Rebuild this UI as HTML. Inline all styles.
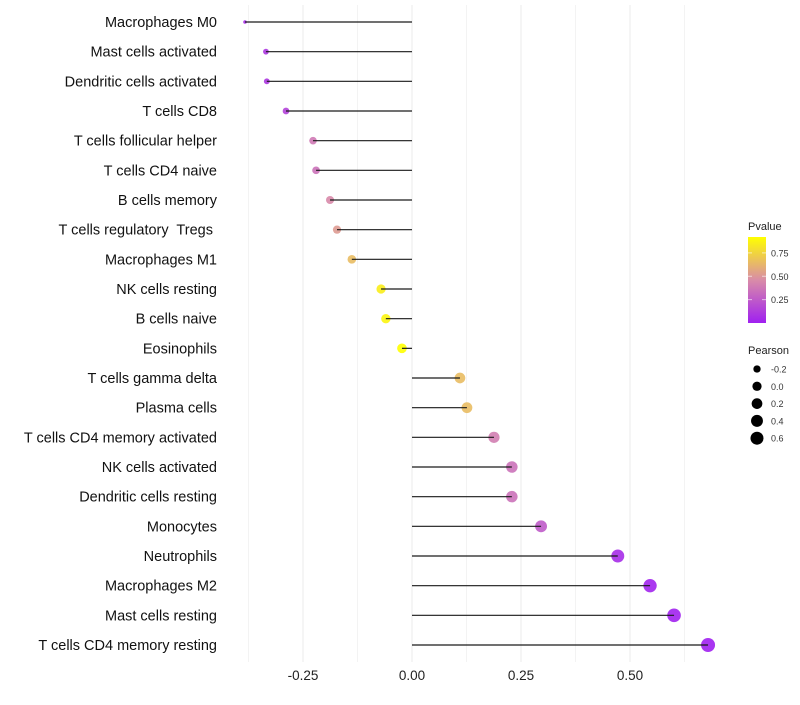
<!DOCTYPE html>
<html><head><meta charset="utf-8"><style>
body{margin:0;background:#fff;font-family:"Liberation Sans",sans-serif}
text{white-space:pre}
</style></head><body>
<svg id="chart" width="800" height="700" xmlns="http://www.w3.org/2000/svg">
<defs><linearGradient id="pg" x1="0" y1="1" x2="0" y2="0">
<stop offset="0" stop-color="#a020f0"/><stop offset="0.5" stop-color="#d98ca8"/><stop offset="1" stop-color="#ffff00"/></linearGradient></defs>
<g id="grid"></g>
<g id="marks"></g>
<g id="labels"></g>
<g id="xt"></g>
<g>
<text x="748" y="230" font-size="11" fill="#222">Pvalue</text>
<rect x="748" y="237" width="18" height="86" fill="url(#pg)"/>
<g id="pleg"></g>
</g>
<g>
<text x="748" y="354" font-size="11" fill="#222">Pearson</text>
<g id="sleg"></g>
</g>
</svg>
<script>
const categories=["Macrophages M0","Mast cells activated","Dendritic cells activated","T cells CD8","T cells follicular helper","T cells CD4 naive","B cells memory","T cells regulatory  Tregs ","Macrophages M1","NK cells resting","B cells naive","Eosinophils","T cells gamma delta","Plasma cells","T cells CD4 memory activated","NK cells activated","Dendritic cells resting","Monocytes","Neutrophils","Macrophages M2","Mast cells resting","T cells CD4 memory resting"];
const pearson=[-0.383,-0.335,-0.333,-0.289,-0.227,-0.220,-0.188,-0.172,-0.138,-0.071,-0.060,-0.023,0.110,0.126,0.188,0.229,0.229,0.296,0.472,0.546,0.601,0.679];
const pvalues=[0.05,0.1,0.1,0.15,0.38,0.35,0.45,0.52,0.65,0.85,0.88,0.93,0.65,0.65,0.4,0.35,0.35,0.25,0.05,0.02,0.01,0.0];
const xTicks=[-0.25,0,0.25,0.5];
const xTickLabels=["-0.25","0.00","0.25","0.50"];
const pTicks=[0.25,0.5,0.75];
const sizeTicks=[-0.2,0,0.2,0.4,0.6];
const NS="http://www.w3.org/2000/svg";
const X=v=>412+v*436;
const Y=i=>22+i*(623/21);
const R=v=>1.8+5.2*Math.sqrt(Math.max(0,(v+0.383)/1.062));
const PY=p=>323-(p+0.0)/0.92*86;
function col(p){const t=Math.max(0,Math.min(1,p/0.92));
 const a=[160,32,240],m=[217,140,168],b=[255,255,0];
 let c;if(t<0.5){const s=t/0.5;c=a.map((x,k)=>x+(m[k]-x)*s);}else{const s=(t-0.5)/0.5;c=m.map((x,k)=>x+(b[k]-x)*s);}
 return `rgb(${c.map(Math.round).join(',')})`;}
function mk(tag,at,parent){const e=document.createElementNS(NS,tag);for(const k in at)e.setAttribute(k,at[k]);parent.appendChild(e);return e;}
const grid=document.getElementById('grid');
for(let g=-0.375;g<=0.7;g+=0.125){const l=mk('line',{x1:X(g),x2:X(g),y1:5,y2:662,stroke:Math.abs((g*8)%2)>0.5?'#f3f3f3':'#ebebeb','stroke-width':1},grid);

}
const marks=document.getElementById('marks'),labels=document.getElementById('labels');
categories.forEach((c,i)=>{
 const p=mk('circle',{cx:X(pearson[i]),cy:Y(i),r:R(pearson[i]),fill:col(pvalues[i]),'fill-opacity':0.9},marks);
 
 
 const s=mk('line',{x1:X(0),x2:X(pearson[i]),y1:Y(i),y2:Y(i),stroke:'#1a1a1a','stroke-width':1.2},marks);
 
 
 const t=mk('text',{x:217,y:Y(i)+5,'text-anchor':'end','font-size':14.5,fill:'#111'},labels);
 t.textContent=c;
 
 
});
const xt=document.getElementById('xt');
xTicks.forEach((v,i)=>{const t=mk('text',{x:X(v),y:680,'text-anchor':'middle','font-size':13.5,fill:'#222'},xt);
 t.textContent=xTickLabels[i];
 
 });
const pl=document.getElementById('pleg');
pTicks.forEach(p=>{const t=mk('text',{x:771,y:PY(p)+3.5,'font-size':9,fill:'#333'},pl);
 t.textContent=p.toFixed(2);
 
 
 mk('line',{x1:748,x2:752,y1:PY(p),y2:PY(p),stroke:'#fff','stroke-opacity':0.6},pl);
 mk('line',{x1:762,x2:766,y1:PY(p),y2:PY(p),stroke:'#fff','stroke-opacity':0.6},pl);});
const sl=document.getElementById('sleg');
sizeTicks.forEach((v,i)=>{const y=369+i*17.3;
 const c=mk('circle',{cx:757,cy:y,r:R(v)-0.3,fill:'#000'},sl);
 
 
 const t=mk('text',{x:771,y:y+3.5,'font-size':9,fill:'#333'},sl);
 t.textContent=v.toFixed(1);
 
 });
</script>
</body></html>
